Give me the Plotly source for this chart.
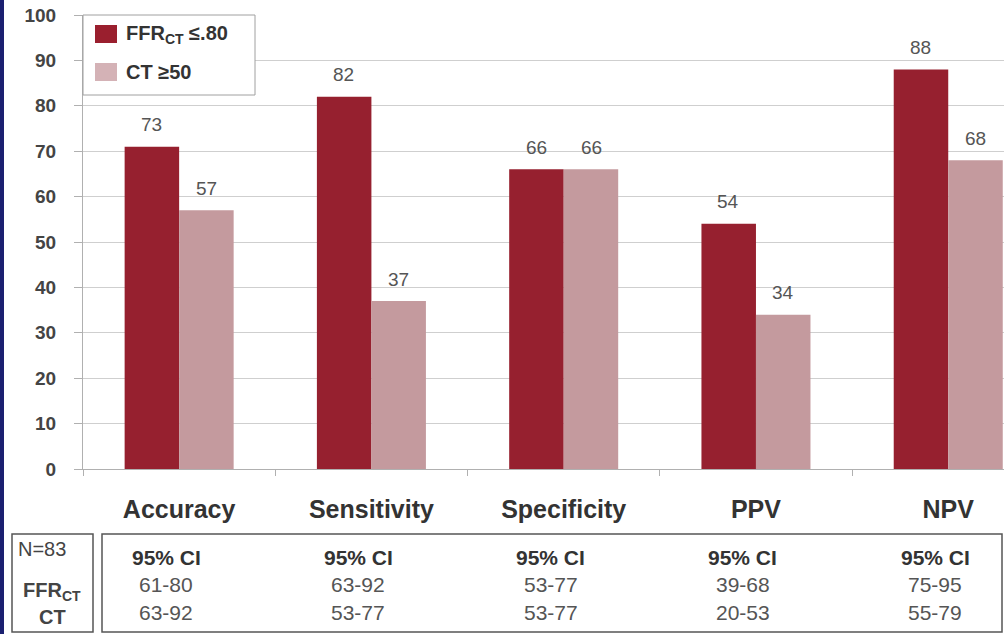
import plotly.graph_objects as go

# ---- data ----
categories = ["Accuracy", "Sensitivity", "Specificity", "PPV", "NPV"]
ffr_values = [71, 82, 66, 54, 88]          # bar heights as drawn
ffr_labels = ["73", "82", "66", "54", "88"]  # printed labels
ct_values = [57, 37, 66, 34, 68]
ct_labels = ["57", "37", "66", "34", "68"]
ci_ffr = ["61-80", "63-92", "53-77", "39-68", "75-95"]
ci_ct = ["63-92", "53-77", "53-77", "20-53", "55-79"]
y_ticks = [0, 10, 20, 30, 40, 50, 60, 70, 80, 90, 100]

W, H = 1004, 634
L, R, T, B = 83, 1004, 15, 469
FONT = "Liberation Sans, Arial, sans-serif"
DARK = "#96202f"
LIGHT = "#c49a9e"


def px(x):
    return (x - L) / (R - L)


def py(y):
    return (B - y) / (B - T)


fig = go.Figure()
fig.add_trace(go.Bar(x=categories, y=ffr_values, name="FFRCT ≤.80",
                     marker=dict(color=DARK, line=dict(width=0)), showlegend=False))
fig.add_trace(go.Bar(x=categories, y=ct_values, name="CT ≥50",
                     marker=dict(color=LIGHT, line=dict(width=0)), showlegend=False))

annotations = []
shapes = []

BAR_HALF = 27.5
for c, v, t in zip(categories, ffr_values, ffr_labels):
    annotations.append(dict(x=c, y=v, xref="x", yref="y", text=t, showarrow=False,
                            xshift=-BAR_HALF, yshift=22, yanchor="middle",
                            font=dict(family=FONT, size=19, color="#555555")))
for c, v, t in zip(categories, ct_values, ct_labels):
    annotations.append(dict(x=c, y=v, xref="x", yref="y", text=t, showarrow=False,
                            xshift=BAR_HALF, yshift=22, yanchor="middle",
                            font=dict(family=FONT, size=19, color="#555555")))

# legend box
shapes.append(dict(type="rect", xref="paper", yref="paper", x0=px(83), x1=px(255),
                   y0=py(95), y1=py(15), fillcolor="white",
                   line=dict(color="#a0a0a0", width=1), layer="above"))
shapes.append(dict(type="rect", xref="paper", yref="paper", x0=px(95), x1=px(117),
                   y0=py(43), y1=py(25), fillcolor="#9a1f2e", line=dict(width=0)))
shapes.append(dict(type="rect", xref="paper", yref="paper", x0=px(95), x1=px(117),
                   y0=py(81), y1=py(63), fillcolor="#d4b2b6", line=dict(width=0)))
annotations.append(dict(x=px(124), y=py(34), xref="paper", yref="paper",
                        text="<b>FFR<sub>CT</sub> ≤.80</b>", showarrow=False,
                        xanchor="left", yanchor="middle",
                        font=dict(family=FONT, size=20, color="#333333")))
annotations.append(dict(x=px(124), y=py(72), xref="paper", yref="paper",
                        text="<b>CT ≥50</b>", showarrow=False,
                        xanchor="left", yanchor="middle",
                        font=dict(family=FONT, size=20, color="#333333")))

# table boxes
shapes.append(dict(type="rect", xref="paper", yref="paper", x0=px(12), x1=px(93),
                   y0=py(632), y1=py(534), line=dict(color="#555555", width=1.5)))
shapes.append(dict(type="rect", xref="paper", yref="paper", x0=px(102), x1=px(1002),
                   y0=py(632), y1=py(534), line=dict(color="#555555", width=1.5)))

annotations.append(dict(x=px(16), y=py(549), xref="paper", yref="paper", text="N=83",
                        showarrow=False, xanchor="left", yanchor="middle",
                        font=dict(family=FONT, size=20, color="#444444")))
annotations.append(dict(x=px(52), y=py(591), xref="paper", yref="paper",
                        text="<b>FFR<sub>CT</sub></b>", showarrow=False,
                        xanchor="center", yanchor="middle",
                        font=dict(family=FONT, size=20, color="#444444")))
annotations.append(dict(x=px(52), y=py(617), xref="paper", yref="paper",
                        text="<b>CT</b>", showarrow=False,
                        xanchor="center", yanchor="middle",
                        font=dict(family=FONT, size=20, color="#444444")))

for c, a, b in zip(categories, ci_ffr, ci_ct):
    annotations.append(dict(x=c, y=py(557), xref="x", yref="paper", text="<b>95% CI</b>",
                            showarrow=False, xshift=-13, yanchor="middle",
                            font=dict(family=FONT, size=21, color="#333333")))
    annotations.append(dict(x=c, y=py(584), xref="x", yref="paper", text=a,
                            showarrow=False, xshift=-13, yanchor="middle",
                            font=dict(family=FONT, size=21, color="#555555")))
    annotations.append(dict(x=c, y=py(612), xref="x", yref="paper", text=b,
                            showarrow=False, xshift=-13, yanchor="middle",
                            font=dict(family=FONT, size=21, color="#555555")))

# navy left strip
shapes.append(dict(type="rect", xref="paper", yref="paper", x0=px(0), x1=px(4),
                   y0=py(H), y1=py(0), fillcolor="#1b2070", line=dict(width=0)))

fig.update_layout(
    width=W, height=H,
    margin=dict(l=L, r=W - R, t=T, b=H - B, pad=0),
    paper_bgcolor="white", plot_bgcolor="white",
    barmode="group", bargap=0.433, bargroupgap=0,
    font=dict(family=FONT),
    xaxis=dict(range=[-0.5, 4.29], showgrid=False, showline=True, linecolor="#b0b0b0",
               linewidth=1, ticks="outside", tickson="boundaries", ticklen=6,
               tickcolor="#b0b0b0", ticklabelstandoff=18,
               tickfont=dict(family=FONT, size=25, color="#333333", weight="bold"),
               fixedrange=True),
    yaxis=dict(range=[0, 100], tickvals=y_ticks, showgrid=True, gridcolor="#cfcfcf",
               gridwidth=1, showline=True, linecolor="#b0b0b0", linewidth=1,
               ticks="outside", ticklen=8, tickcolor="#b0b0b0", ticklabelstandoff=14,
               tickfont=dict(family=FONT, size=19, color="#444444", weight="bold"),
               zeroline=False, fixedrange=True),
    annotations=annotations,
    shapes=shapes,
    showlegend=False,
)

fig.write_html(
    "out.html",
    config={"displayModeBar": False},
    post_script="document.body.style.margin='0';document.body.style.padding='0';"
                "document.body.style.overflow='hidden';",
)
